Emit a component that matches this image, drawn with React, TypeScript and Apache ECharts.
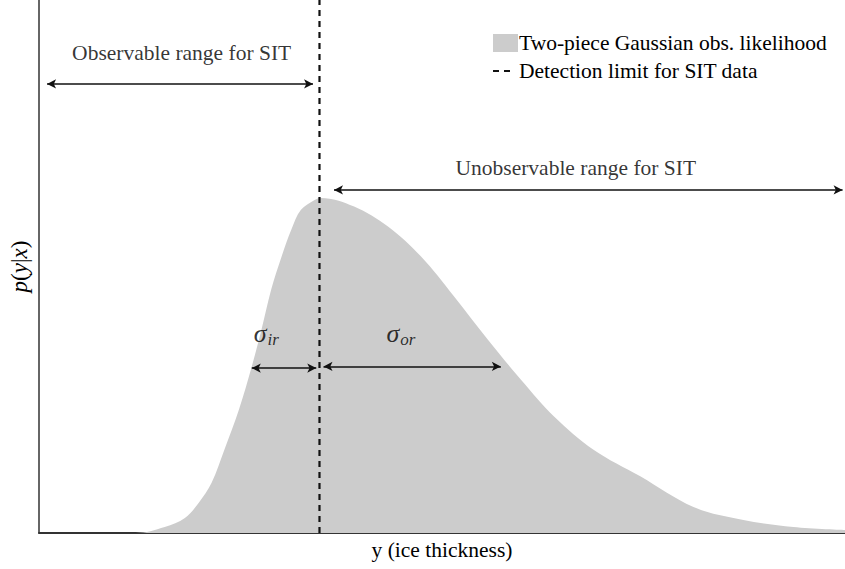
import React, { useEffect, useRef } from "react";
import * as echarts from "echarts";

// Ice thickness positions (arbitrary units) and two-piece Gaussian likelihood values
const thickness = [0, 1.2, 1.56, 1.81, 1.98, 2.14, 2.3, 2.48, 2.64, 2.76, 2.88, 3.01, 3.13, 3.25, 3.42, 3.5, 3.91, 4.33, 4.74, 5.15, 5.57, 5.98, 6.39, 6.88, 7.46, 8.12, 8.74, 9.36, 10.0];
const likelihood = [0, 0, 0.018, 0.045, 0.09, 0.15, 0.25, 0.37, 0.5, 0.61, 0.73, 0.83, 0.91, 0.97, 1.0, 1.006, 0.98, 0.92, 0.83, 0.71, 0.58, 0.46, 0.35, 0.25, 0.17, 0.078, 0.039, 0.018, 0.009];

const detectionLimit = 3.48;

const seriesNames = ["Two-piece Gaussian obs. likelihood", "Detection limit for SIT data"];

// Arrow annotations: [x1, x2, y]
const observableArrow = [0.1, 3.4, 1.348];
const unobservableArrow = [3.66, 9.97, 1.03];
const sigmaIrArrow = [2.64, 3.44, 0.495];
const sigmaOrArrow = [3.53, 5.73, 0.5];

// Text annotations: [x, y, text]
const annotations: [number, number, string][] = [
  [1.77, 1.44, "Observable range for SIT"],
  [6.66, 1.096, "Unobservable range for SIT"],
  [2.82, 0.6, "{s|σ}{sub|ir}"],
  [4.49, 0.6, "{s|σ}{sub|or}"],
];

const FONT = "'Liberation Serif', 'DejaVu Serif', serif";
const FS = 21.5;

export default function App() {
  const ref = useRef<HTMLDivElement>(null);
  useEffect(() => {
    const chart = echarts.init(ref.current!, null, { renderer: "svg" });
    const arrowLine = (a: number[]) => [
      { coord: [a[0], a[2]] },
      { coord: [a[1], a[2]] },
    ];
    chart.setOption({
      animation: false,
      grid: { left: 37, right: 0, top: 0, bottom: 36, containLabel: false },
      legend: {
        orient: "vertical",
        left: 492,
        top: 32,
        padding: 0,
        itemWidth: 25,
        itemHeight: 18,
        itemGap: 6,
        textStyle: { fontFamily: FONT, fontSize: FS, color: "#000", padding: [0, 0, 0, -4] },
        data: [
          { name: seriesNames[0], icon: "rect", itemStyle: { color: "#cccccc" } },
          {
            name: seriesNames[1],
            itemStyle: { color: "rgba(0,0,0,0)", borderColor: "rgba(0,0,0,0)", borderWidth: 0 },
            lineStyle: { type: [6, 5, 6, 100], width: 2, color: "#111" },
          },
        ],
        selectedMode: false,
      },
      xAxis: {
        type: "value",
        min: 0,
        max: 10,
        axisLine: { show: true, lineStyle: { color: "#333", width: 2 } },
        axisTick: { show: false },
        axisLabel: { show: false },
        splitLine: { show: false },
        name: "y (ice thickness)",
        nameLocation: "middle",
        nameGap: 6,
        nameTextStyle: { fontFamily: FONT, fontSize: FS, color: "#000", verticalAlign: "top" },
      },
      yAxis: {
        type: "value",
        min: 0,
        max: 1.6,
        axisLine: { show: true, lineStyle: { color: "#333", width: 1.5 } },
        axisTick: { show: false },
        axisLabel: { show: false },
        splitLine: { show: false },
        name: "{i|p}{n|(}{i|y}{n||}{i|x}{n|)}",
        nameLocation: "middle",
        nameRotate: 90,
        nameGap: 8,
        nameTextStyle: {
          color: "#000",
          rich: {
            i: { fontFamily: FONT, fontStyle: "italic", fontSize: 23, color: "#000" },
            n: { fontFamily: FONT, fontSize: 23, color: "#000" },
          },
        },
      },
      series: [
        {
          name: seriesNames[0],
          type: "line",
          data: thickness.map((x, i) => [x, likelihood[i]]),
          smooth: 0.35,
          symbol: "none",
          showSymbol: false,
          lineStyle: { width: 0 },
          areaStyle: { color: "#cccccc", opacity: 1 },
          itemStyle: { color: "#cccccc" },
          silent: true,
          z: 1,
        },
        {
          name: seriesNames[1],
          type: "line",
          data: [
            [detectionLimit, 0],
            [detectionLimit, 1.6],
          ],
          symbol: "none",
          showSymbol: false,
          lineStyle: { color: "#111", width: 2.2, type: [6, 5] },
          itemStyle: { color: "#111" },
          silent: true,
          z: 2,
        },
        {
          name: "arrows",
          type: "line",
          data: [],
          silent: true,
          z: 3,
          markLine: {
            silent: true,
            symbol: ["arrow", "arrow"],
            symbolSize: [7, 9],
            label: { show: false },
            lineStyle: { color: "#111", width: 1.5, type: "solid" },
            emphasis: { disabled: true },
            data: [
              arrowLine(observableArrow),
              arrowLine(unobservableArrow),
              arrowLine(sigmaIrArrow),
              arrowLine(sigmaOrArrow),
            ],
          },
        },
        {
          name: "labels",
          type: "scatter",
          symbolSize: 0,
          silent: true,
          z: 4,
          data: annotations.map((a) => ({
            value: [a[0], a[1]],
            label: { formatter: a[2] },
          })),
          label: {
            show: true,
            position: "inside",
            fontFamily: FONT,
            fontSize: FS,
            color: "#000",
            rich: {
              s: { fontFamily: FONT, fontStyle: "italic", fontSize: 26, color: "#000" },
              sub: { fontFamily: FONT, fontStyle: "italic", fontSize: 17, color: "#000", padding: [12, 0, 0, 1] },
            },
          },
        },
      ],
    });
    return () => chart.dispose();
  }, []);
  return (
    <div
      ref={ref}
      style={{ position: "absolute", left: 0, top: 0, width: 845, height: 569, background: "#fff" }}
    />
  );
}
